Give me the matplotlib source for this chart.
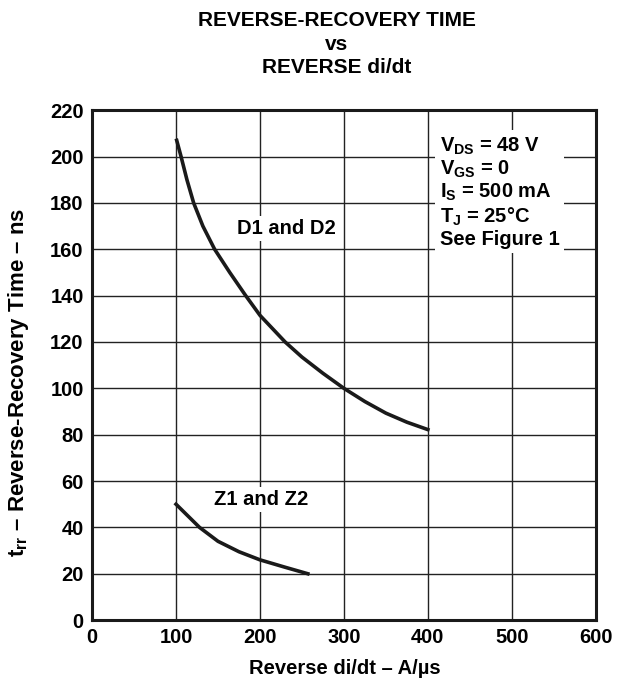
import matplotlib
matplotlib.use("Agg")
import matplotlib.pyplot as plt

plt.rcParams["font.family"] = ["Liberation Sans", "DejaVu Sans"]
plt.rcParams["font.weight"] = "bold"
plt.rcParams["mathtext.fontset"] = "custom"
plt.rcParams["mathtext.rm"] = "Liberation Sans:bold"
plt.rcParams["mathtext.bf"] = "Liberation Sans:bold"
plt.rcParams["mathtext.it"] = "Liberation Sans:bold"

# D1 and D2 curve
d_didt = [100.8, 106, 113, 121, 132, 146, 164, 183, 200, 230, 250, 275, 300, 325, 350, 375, 400]
d_trr = [207, 200, 190, 180, 170, 160, 150, 140, 131.5, 120, 113.5, 106.5, 100, 94.3, 89.3, 85.4, 82.2]

# Z1 and Z2 curve
z_didt = [100, 114, 128, 150, 175, 200, 230, 257]
z_trr = [50, 45, 40, 34, 29.5, 26, 22.8, 20]

xticks = [0, 100, 200, 300, 400, 500, 600]
yticks = list(range(0, 221, 20))

conditions = [r"V$_{\mathbf{DS}}$ = 48 V",
              r"V$_{\mathbf{GS}}$ = 0",
              r"I$_{\mathbf{S}}$ = 500 mA",
              r"T$_{\mathbf{J}}$ = 25°C",
              "See Figure 1"]

fig = plt.figure(figsize=(6.18, 6.89), dpi=100)
ax = fig.add_axes([0.149, 0.100, 0.815, 0.740])

ax.plot(d_didt, d_trr, color="#1a1a1a", linewidth=2.6, solid_joinstyle="round")
ax.plot(z_didt, z_trr, color="#1a1a1a", linewidth=2.6, solid_joinstyle="round")

ax.set_xlim(0, 600)
ax.set_ylim(0, 220)
ax.set_xticks(xticks)
ax.set_yticks(yticks)
ax.tick_params(length=0, labelsize=14.5, pad=6)
ax.grid(color="#222222", linewidth=1)
for s in ax.spines.values():
    s.set_linewidth(2.2)
    s.set_color("#1a1a1a")

ax.text(232, 169, "D1 and D2", fontsize=14.5, ha="center", va="center",
        bbox=dict(facecolor="white", edgecolor="none", pad=2))
ax.text(201, 52, "Z1 and Z2", fontsize=14.5, ha="center", va="center",
        bbox=dict(facecolor="white", edgecolor="none", pad=2))
ax.text(414, 209, "\n".join(conditions), fontsize=14.5, ha="left", va="top",
        linespacing=1.12,
        bbox=dict(facecolor="white", edgecolor="none", pad=3))

fig.text(0.545, 0.970, "REVERSE-RECOVERY TIME", fontsize=15, ha="center", va="center")
fig.text(0.545, 0.936, "vs", fontsize=15, ha="center", va="center")
fig.text(0.545, 0.902, "REVERSE di/dt", fontsize=15, ha="center", va="center")

fig.text(0.558, 0.030, "Reverse di/dt – A/µs", fontsize=14.5, ha="center", va="center")
fig.text(0.030, 0.445, r"t$_{\mathbf{rr}}$ – Reverse-Recovery Time – ns", fontsize=16,
         ha="center", va="center", rotation=90)

fig.savefig("out.png", dpi=100)
